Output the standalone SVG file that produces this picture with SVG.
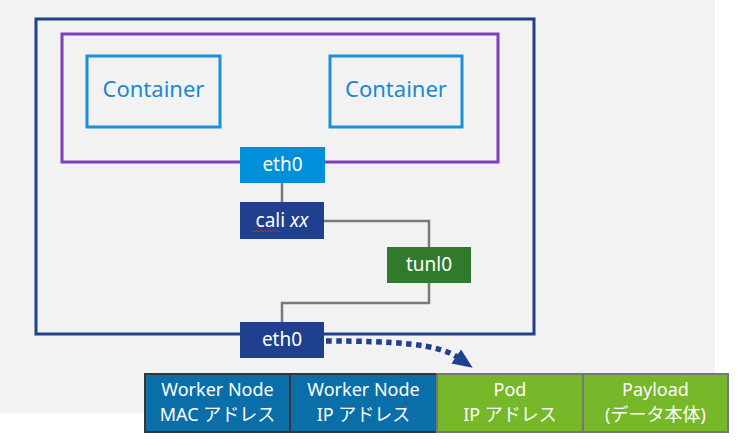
<svg xmlns="http://www.w3.org/2000/svg" width="750" height="441" viewBox="0 0 750 441">
<style>
text{font-family:"Noto Sans","Noto Sans CJK JP",sans-serif;text-anchor:middle}
.ctn{fill:none;stroke:#1a90d8;stroke-width:3}
.ctt{fill:#1a88cc;font-size:22px}
.wt{fill:#fff;font-size:19px}
.conn{fill:none;stroke:#7a7a7a;stroke-width:2.5}
.fb{fill:#0a6fa8;stroke:#353535;stroke-width:2}
.fg{fill:#76b82a;stroke:#767676;stroke-width:2}
.ft{fill:#fff;font-size:18px}
</style>
<defs>
<marker id="ah2" markerWidth="20" markerHeight="17" refX="1" refY="8.5" orient="auto" markerUnits="userSpaceOnUse" viewBox="0 0 20 17">
<path d="M0,0 L20,8.5 L0,17 Z" fill="#1f3f8f"/>
</marker>
</defs>
<rect x="0" y="0" width="715" height="413" fill="#f2f2f2"/>
<g id="worker-node"><rect x="36" y="19" width="498" height="315" fill="none" stroke="#203f8e" stroke-width="3"/></g>
<g id="pod"><rect x="62" y="34" width="436" height="128" fill="none" stroke="#7e3fb8" stroke-width="3"/></g>
<g id="container1"><rect class="ctn" x="87" y="56" width="133" height="71"/><text class="ctt" x="153.5" y="97">Container</text></g>
<g id="container2"><rect class="ctn" x="330" y="56" width="132" height="71"/><text class="ctt" x="396" y="97">Container</text></g>
<g id="connectors">
<path class="conn" d="M282,183 V202"/>
<path class="conn" d="M324,221 H429 V247"/>
<path class="conn" d="M429,283 V303 H282 V322"/>
<path d="M326,341 C395,341 438,344 457,357" fill="none" stroke="#1f3f8f" stroke-width="5.5" stroke-dasharray="5.5 4.5" marker-end="url(#ah2)"/>
</g>
<g id="eth0-pod"><rect x="240" y="147" width="85" height="36" fill="#0090da"/><text class="wt" x="282.5" y="171">eth0</text></g>
<g id="cali"><rect x="240" y="202" width="84" height="37" fill="#1f3f8f"/><text class="wt" x="282" y="227">cali <tspan font-style="italic">xx</tspan></text><path d="M252,231 q1,-1.5 2,0 t2,0 t2,0 t2,0 t2,0 t2,0 t2,0 t2,0 t2,0 t2,0 t2,0 t2,0 t2,0 t2,0" fill="none" stroke="#d03030" stroke-width="0.8"/></g>
<g id="tunl0"><rect x="387" y="247" width="84" height="36" fill="#317a2c"/><text class="wt" x="429" y="271">tunl0</text></g>
<g id="eth0-node"><rect x="240" y="322" width="84" height="36" fill="#1f3f8f"/><text class="wt" x="282" y="346">eth0</text></g>
<g id="frame">
<g id="f1"><rect class="fb" x="145" y="374" width="145" height="58"/><text class="ft" x="217.5" y="396">Worker Node</text><text class="ft" x="217.5" y="421">MAC アドレス</text></g>
<g id="f2"><rect class="fb" x="290" y="374" width="147" height="58"/><text class="ft" x="363.5" y="396">Worker Node</text><text class="ft" x="363.5" y="421">IP アドレス</text></g>
<g id="f3"><rect class="fg" x="437" y="374" width="146" height="58"/><text class="ft" x="510" y="396">Pod</text><text class="ft" x="510" y="421">IP アドレス</text></g>
<g id="f4"><rect class="fg" x="583" y="374" width="145" height="58"/><text class="ft" x="655.5" y="396">Payload</text><text class="ft" x="655.5" y="421">(データ本体)</text></g>
</g>
</svg>
